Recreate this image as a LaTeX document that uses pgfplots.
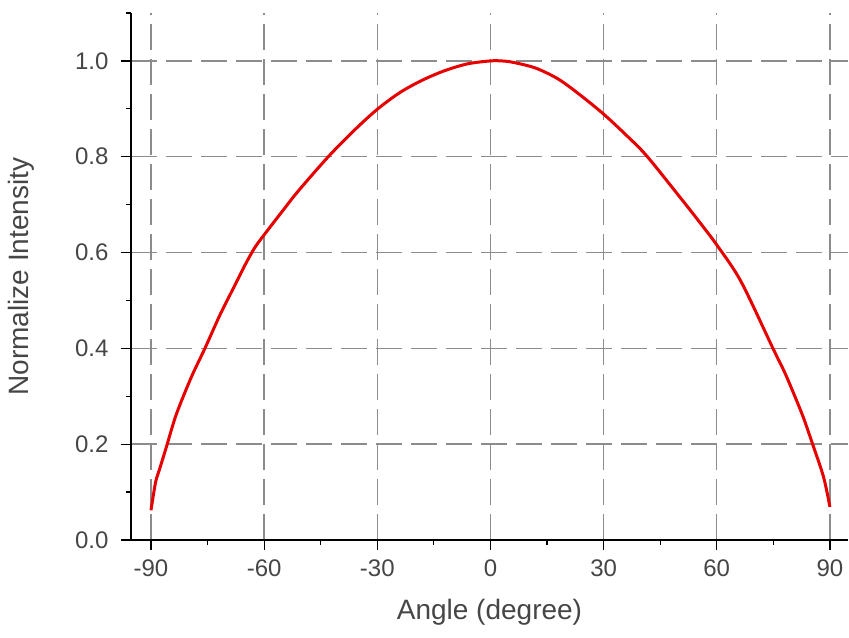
\documentclass[border=0pt]{standalone}
\usepackage{pgfplots}
\pgfplotsset{compat=1.18}
\usepackage{fontspec}
\setmainfont{Liberation Sans}
\definecolor{curvered}{RGB}{230,0,0}
\definecolor{gridgray}{RGB}{140,140,140}
\definecolor{txtgray}{RGB}{70,70,70}
\begin{document}
\begin{tikzpicture}
\begin{axis}[
  scale only axis,
  width=717pt, height=527pt,
  xmin=-95.3, xmax=94.8,
  ymin=0, ymax=1.1,
  axis lines=left,
  axis line style={-, black, line width=1.4pt},
  xtick={-90,-60,-30,0,30,60,90},
  xticklabels={-90,-60,-30,0,30,60,90},
  minor xtick={-75,-45,-15,15,45,75},
  ytick={0,0.2,0.4,0.6,0.8,1.0},
  yticklabels={0.0,0.2,0.4,0.6,0.8,1.0},
  minor ytick={0.1,0.3,0.5,0.7,0.9,1.1},
  tick align=outside,
  major tick length=10pt,
  minor tick length=5pt,
  every tick/.style={black, line width=1.2pt},
  grid=major,
  major grid style={gridgray, line width=1.4pt, dash pattern=on 26pt off 9pt},
  ticklabel style={font=\fontsize{24}{28}\selectfont, text=txtgray},
  xticklabel style={yshift=-6pt},
  yticklabel style={xshift=-9pt},
  xlabel={Angle (degree)},
  ylabel={Normalize Intensity},
  label style={font=\fontsize{28}{32}\selectfont, text=txtgray},
  xlabel style={yshift=-16pt},
  ylabel style={yshift=34pt},
  clip=false,
]
\addplot[curvered, line width=3pt, smooth] coordinates {
(-90,0.062) (-88.8,0.12) (-87.8,0.146) (-86,0.192) (-83.3,0.262) (-79.3,0.34)
(-75.7,0.40) (-71.7,0.47) (-68,0.528) (-65,0.575) (-62.5,0.61) (-60,0.637) (-55,0.688) (-51,0.728)
(-43,0.80) (-36,0.856) (-30,0.899) (-24,0.934) (-18,0.96) (-12,0.98) (-6,0.994)
(0,1.0) (3,1.0) (6,0.997) (12,0.985) (18,0.962) (23.6,0.930) (30,0.889)
(36,0.845) (41.4,0.802) (50.4,0.714) (55,0.668) (60,0.616) (66.4,0.54) (74.9,0.40)
(78,0.35) (80.7,0.30) (83,0.255) (85.2,0.205) (88.3,0.132) (90,0.069)
};
\coordinate (ll) at (rel axis cs:0,0);
\coordinate (ur) at (rel axis cs:1,1);
\end{axis}
\pgfresetboundingbox
\path[use as bounding box] ([shift={(-131pt,-97pt)}]ll) rectangle ([shift={(1pt,13pt)}]ur);
\end{tikzpicture}
\end{document}
